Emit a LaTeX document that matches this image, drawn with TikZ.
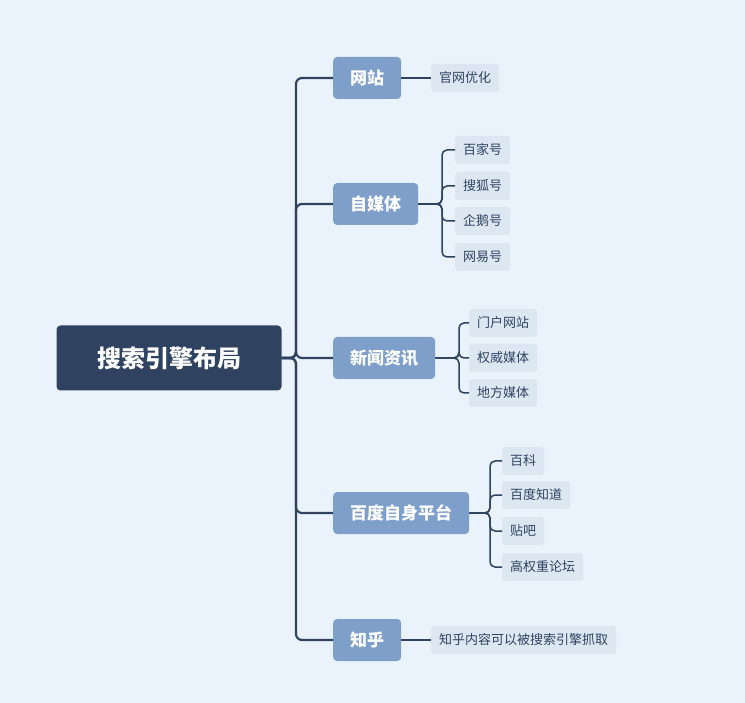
\documentclass[tikz,border=0pt]{standalone}
\usepackage{fontspec}
\setmainfont{Noto Sans CJK SC}
\usetikzlibrary{positioning}
\definecolor{bgcol}{HTML}{EAF3FB}
\definecolor{rootcol}{HTML}{2F4360}
\definecolor{topiccol}{HTML}{7F9FCB}
\definecolor{leafcol}{HTML}{DDE7F1}
\definecolor{linecol}{HTML}{2F4360}
\tikzset{
  root/.style={fill=rootcol,text=white,rounded corners=4pt,minimum width=225pt,minimum height=65pt,font=\bfseries\fontsize{24}{28}\selectfont},
  topic/.style={fill=topiccol,text=white,rounded corners=4pt,minimum height=42pt,inner xsep=17pt,anchor=west,font=\bfseries\fontsize{17}{20}\selectfont},
  leaf/.style={fill=leafcol,text=rootcol,rounded corners=3pt,minimum height=28pt,inner xsep=8pt,anchor=west,font=\fontsize{13}{15}\selectfont},
  link/.style={draw=linecol,line width=2.2pt,rounded corners=6pt},
  sublink/.style={draw=linecol,line width=1.5pt,rounded corners=5pt}
}
\begin{document}
\begin{tikzpicture}[x=1pt,y=-1pt]
\fill[bgcol] (0,0) rectangle (745,703);
\useasboundingbox (0,0) rectangle (745,703);
\node[root] (root) at (169,358) {搜索引擎布局};
% topics
\node[topic] (web) at (333,78) {网站};
\node[topic] (media) at (333,204) {自媒体};
\node[topic] (news) at (333,358) {新闻资讯};
\node[topic] (baidu) at (333,513) {百度自身平台};
\node[topic] (zhihu) at (333,640) {知乎};
\foreach \t in {web,media,news,baidu,zhihu}
  \draw[link] (root.east) -- (296,358) |- (\t.west);
% leaves
\node[leaf] (w1) at (431,78) {官网优化};
\draw[sublink] (web.east) -- (w1.west);
\node[leaf] (m1) at (455,150) {百家号};
\node[leaf] (m2) at (455,186) {搜狐号};
\node[leaf] (m3) at (455,221) {企鹅号};
\node[leaf] (m4) at (455,257) {网易号};
\foreach \l in {m1,m2,m3,m4}
  \draw[sublink] (media.east) -- (442,204) |- (\l.west);
\node[leaf] (n1) at (469,323) {门户网站};
\node[leaf] (n2) at (469,358) {权威媒体};
\node[leaf] (n3) at (469,393) {地方媒体};
\foreach \l in {n1,n2,n3}
  \draw[sublink] (news.east) -- (459,358) |- (\l.west);
\node[leaf] (b1) at (502,461) {百科};
\node[leaf] (b2) at (502,495) {百度知道};
\node[leaf] (b3) at (502,531) {贴吧};
\node[leaf] (b4) at (502,567) {高权重论坛};
\foreach \l in {b1,b2,b3,b4}
  \draw[sublink] (baidu.east) -- (490,513) |- (\l.west);
\node[leaf] (z1) at (431,640) {知乎内容可以被搜索引擎抓取};
\draw[sublink] (zhihu.east) -- (z1.west);
\end{tikzpicture}
\end{document}
